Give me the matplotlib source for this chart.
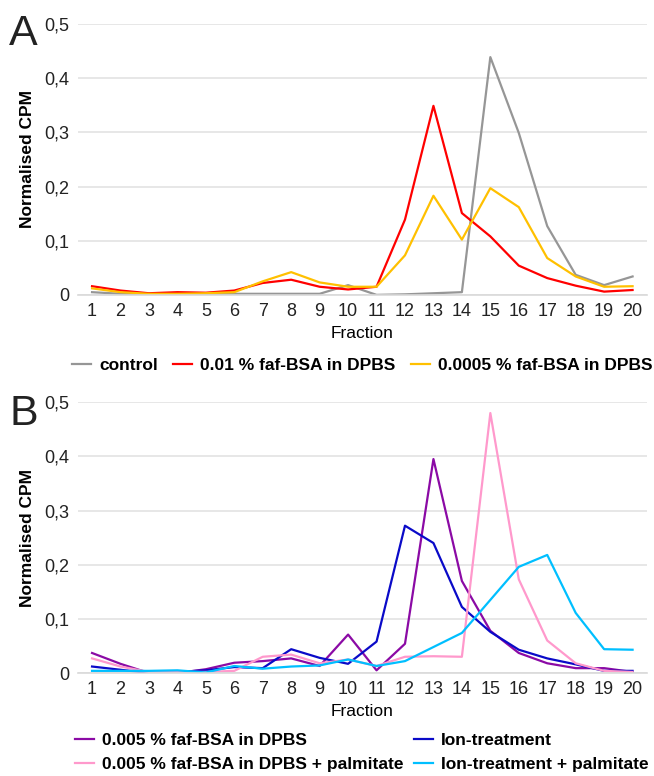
import matplotlib
matplotlib.use("Agg")
import matplotlib.pyplot as plt

plt.rcParams['font.family'] = ['Liberation Sans', 'DejaVu Sans']

fractions = list(range(1, 21))

# panel A
control = [0.005, 0.002, 0.002, 0.002, 0.002, 0.002, 0.002, 0.002, 0.002, 0.018,
           0.0, 0.001, 0.003, 0.005, 0.439, 0.299, 0.127, 0.037, 0.018, 0.034]
bsa_001 = [0.016, 0.008, 0.003, 0.005, 0.004, 0.008, 0.022, 0.028, 0.015, 0.010,
           0.015, 0.139, 0.349, 0.151, 0.108, 0.054, 0.031, 0.017, 0.006, 0.009]
bsa_00005 = [0.012, 0.005, 0.002, 0.002, 0.003, 0.005, 0.025, 0.042, 0.023, 0.015,
             0.015, 0.073, 0.183, 0.102, 0.197, 0.162, 0.068, 0.034, 0.015, 0.016]

# panel B
bsa_0005 = [0.037, 0.017, 0.0, 0.0, 0.007, 0.019, 0.022, 0.027, 0.013, 0.071,
            0.005, 0.054, 0.395, 0.170, 0.078, 0.037, 0.018, 0.009, 0.009, 0.002]
ion = [0.012, 0.006, 0.0, 0.002, 0.005, 0.011, 0.009, 0.044, 0.028, 0.017,
       0.058, 0.272, 0.240, 0.122, 0.076, 0.043, 0.027, 0.016, 0.004, 0.004]
bsa_0005_palm = [0.027, 0.012, 0.002, 0.002, 0.002, 0.004, 0.030, 0.034, 0.018, 0.025,
                 0.013, 0.030, 0.031, 0.030, 0.480, 0.173, 0.060, 0.018, 0.004, 0.002]
ion_palm = [0.004, 0.004, 0.004, 0.005, 0.001, 0.013, 0.008, 0.012, 0.014, 0.025,
            0.013, 0.022, 0.048, 0.074, 0.135, 0.196, 0.218, 0.111, 0.044, 0.043]

y_ticks = [0, 0.1, 0.2, 0.3, 0.4, 0.5]
y_labels = ['0', '0,1', '0,2', '0,3', '0,4', '0,5']

fig = plt.figure(figsize=(6.54, 7.76), dpi=100)
axA = fig.add_axes([0.119, 0.620, 0.870, 0.349])
axB = fig.add_axes([0.119, 0.1327, 0.870, 0.349])


def style(ax):
    ax.set_xlim(0.5, 20.5)
    ax.set_ylim(0, 0.5)
    ax.set_yticks(y_ticks, labels=y_labels)
    ax.set_xticks(fractions, labels=[str(f) for f in fractions])
    ax.tick_params(length=0, labelsize=13, colors='#222222', pad=6)
    ax.grid(axis='y', color='#e3e3e3', linewidth=1.2)
    ax.set_axisbelow(True)
    for s in ['top', 'right', 'left']:
        ax.spines[s].set_visible(False)
    ax.spines['bottom'].set_color('#d9d9d9')
    ax.spines['bottom'].set_linewidth(1.2)
    ax.set_ylabel('Normalised CPM', fontsize=12.5, fontweight='bold')
    ax.yaxis.set_label_coords(-0.076, 0.5)
    ax.set_xlabel('Fraction', fontsize=12.5, labelpad=4)


lw = 1.6
leg_kw = dict(frameon=False, handlelength=1.1, handletextpad=0.45,
              prop={'weight': 'bold', 'size': 12.5})

axA.plot(fractions, control, color='#969696', lw=lw, label='control')
axA.plot(fractions, bsa_001, color='#ff0000', lw=lw, label='0.01 % faf-BSA in DPBS')
axA.plot(fractions, bsa_00005, color='#ffc000', lw=lw, label='0.0005 % faf-BSA in DPBS')
style(axA)
axA.legend(loc='upper center', bbox_to_anchor=(0.554, 0.559), bbox_transform=fig.transFigure,
           ncol=3, columnspacing=0.9, **leg_kw)

lB1, = axB.plot(fractions, bsa_0005, color='#8b0aa5', lw=lw, label='0.005 % faf-BSA in DPBS')
lB2, = axB.plot(fractions, ion, color='#0a0ac8', lw=lw, label='Ion-treatment')
lB3, = axB.plot(fractions, bsa_0005_palm, color='#ff99cc', lw=lw, label='0.005 % faf-BSA in DPBS + palmitate')
lB4, = axB.plot(fractions, ion_palm, color='#00bfff', lw=lw, label='Ion-treatment + palmitate')
style(axB)
axB.legend(handles=[lB1, lB3, lB2, lB4], loc='upper center', bbox_to_anchor=(0.553, 0.071),
           bbox_transform=fig.transFigure, ncol=2, columnspacing=0.6, labelspacing=0.5,
           borderaxespad=0.3, **leg_kw)

fig.text(0.014, 0.942, 'A', fontsize=31, va='baseline', ha='left', color='#222222')
fig.text(0.014, 0.452, 'B', fontsize=31, va='baseline', ha='left', color='#222222')

fig.savefig('out.png', dpi=100)
